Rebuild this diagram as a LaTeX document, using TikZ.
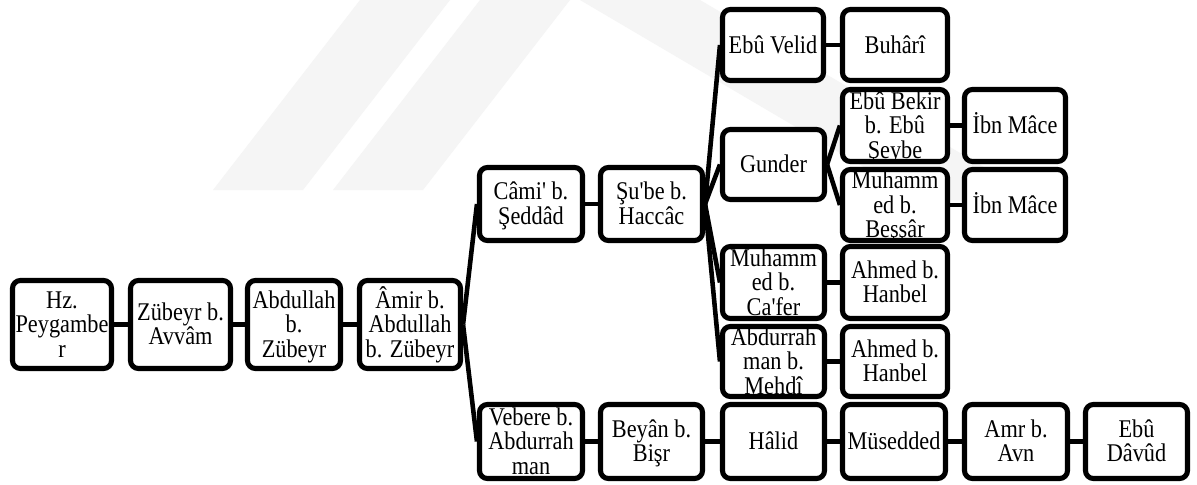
\documentclass[tikz,border=0pt]{standalone}
\usepackage{fontspec}
\setmainfont{Liberation Serif}[Ligatures=TeXOff]
\newfontfamily\bxfont{Liberation Serif}[FakeStretch=0.875,Ligatures=TeXOff]
\newcommand\bxl[1]{\vrule height 9.2pt depth 0pt width 0pt\relax\smash{#1}}
\newcommand\tightlines{\lineskiplimit=-\maxdimen\relax\lineskip=0pt\relax}
\begin{document}
\begin{tikzpicture}[x=0.02cm,y=-0.02cm,
  box/.style={draw=black,line width=2.9pt,rounded corners=4.5pt,fill=white,
    align=center,inner sep=0pt,
    font={\bxfont\fontsize{14.5}{13.9}\selectfont\tightlines}},
  link/.style={draw=black,line width=2.6pt},
  wm/.style={fill=black!4,draw=none}]
\useasboundingbox (0,0) rectangle (1197,484);
\fill[white] (0,0) rectangle (1197,484);
% faint watermark
\path[wm] (213,190)--(303,190)--(450,0)--(360,0)--cycle;
\path[wm] (333,190)--(423,190)--(570,0)--(480,0)--cycle;
\path[wm] (580,0)--(700,0)--(1040,200)--(920,200)--cycle;
\newcommand\bx[6]{\node[box,minimum width=#4*0.02cm,minimum height=#5*0.02cm] (#1) at (#2,#3) {#6};}
\bx{hz}{62}{324.5}{99}{88}{\bxl{Hz.}\\\bxl{Peygambe}\\\bxl{r}}
\bx{zub}{180.5}{324.5}{100}{88}{\bxl{Zübeyr b.}\\\bxl{Avvâm}}
\bx{abd}{294}{324.5}{93}{88}{\bxl{Abdullah}\\\bxl{b.}\\\bxl{Zübeyr}}
\bx{amir}{410}{324.5}{101}{88}{\bxl{Âmir b.}\\\bxl{Abdullah}\\\bxl{b. Zübeyr}}
\bx{cami}{531}{204}{103}{73}{\bxl{Câmi' b.}\\\bxl{Şeddâd}}
\bx{sube}{651.5}{204}{102}{73}{\bxl{Şu'be b.}\\\bxl{Haccâc}}
\bx{velid}{773}{45}{101}{71}{\bxl{Ebû Velid}}
\bx{buhari}{895}{45}{105}{71}{\bxl{Buhârî}}
\bx{gunder}{773.5}{164.5}{102}{70}{\bxl{Gunder}}
\bx{bekir}{895}{125.5}{105}{72}{\bxl{Ebû Bekir}\\\bxl{b. Ebû}\\\bxl{Şeybe}}
\bx{mace1}{1015}{125.5}{101}{72}{\bxl{İbn Mâce}}
\bx{bessar}{895}{205}{105}{71}{\bxl{Muhamm}\\\bxl{ed b.}\\\bxl{Beşşâr}}
\bx{mace2}{1015}{205}{101}{71}{\bxl{İbn Mâce}}
\bx{mcafer}{773.5}{282.5}{102}{72}{\bxl{Muhamm}\\\bxl{ed b.}\\\bxl{Ca'fer}}
\bx{ahmed1}{895}{282.5}{105}{72}{\bxl{Ahmed b.}\\\bxl{Hanbel}}
\bx{mehdi}{773.5}{361.5}{102}{70}{\bxl{Abdurrah}\\\bxl{man b.}\\\bxl{Mehdî}}
\bx{ahmed2}{895}{361.5}{105}{70}{\bxl{Ahmed b.}\\\bxl{Hanbel}}
\bx{vebere}{531}{441.5}{103}{74}{\bxl{Vebere b.}\\\bxl{Abdurrah}\\\bxl{man}}
\bx{beyan}{651.5}{441.5}{102}{74}{\bxl{Beyân b.}\\\bxl{Bişr}}
\bx{halid}{773.5}{441.5}{102}{74}{\bxl{Hâlid}}
\bx{mused}{894}{441.5}{103}{74}{\bxl{Müsedded}}
\bx{amr}{1016}{441.5}{103}{74}{\bxl{Amr b.}\\\bxl{Avn}}
\bx{davud}{1136.5}{441.5}{102}{74}{\bxl{Ebû}\\\bxl{Dâvûd}}
\path[link] (hz.east)--(zub.west);
\path[link] (zub.east)--(abd.west);
\path[link] (abd.east)--(amir.west);
\path[link] (amir.east)--(cami.west);
\path[link] (amir.east)--(vebere.west);
\path[link] (cami.east)--(sube.west);
\path[link] (sube.east)--(velid.west);
\path[link] (sube.east)--(gunder.west);
\path[link] (sube.east)--(mcafer.west);
\path[link] (sube.east)--(mehdi.west);
\path[link] (velid.east)--(buhari.west);
\path[link] (gunder.east)--(bekir.west);
\path[link] (gunder.east)--(bessar.west);
\path[link] (bekir.east)--(mace1.west);
\path[link] (bessar.east)--(mace2.west);
\path[link] (mcafer.east)--(ahmed1.west);
\path[link] (mehdi.east)--(ahmed2.west);
\path[link] (vebere.east)--(beyan.west);
\path[link] (beyan.east)--(halid.west);
\path[link] (halid.east)--(mused.west);
\path[link] (mused.east)--(amr.west);
\path[link] (amr.east)--(davud.west);
\end{tikzpicture}
\end{document}
